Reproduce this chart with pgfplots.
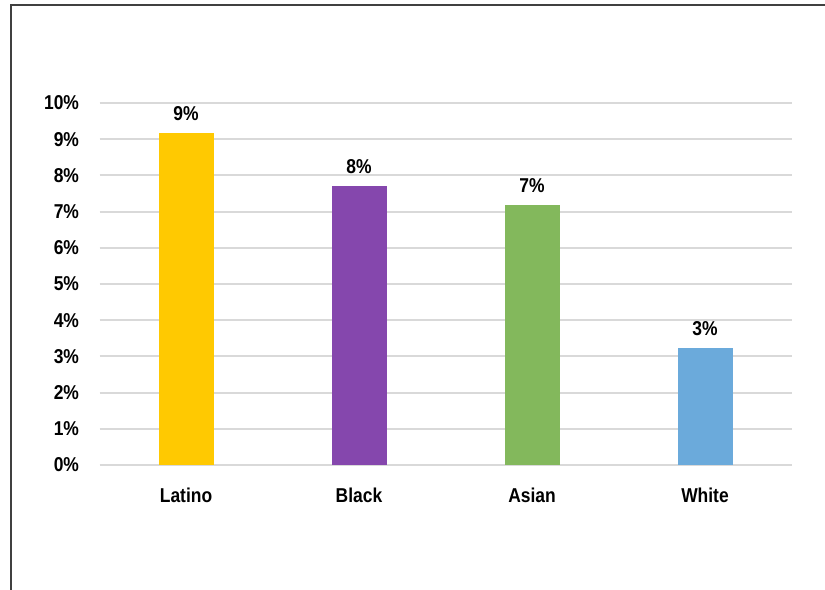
\documentclass[border=0pt]{standalone}
\usepackage{graphicx}
\usepackage{pgfplots}
\pgfplotsset{compat=1.18}
\usepackage{fontspec}
\setmainfont{Liberation Sans}
\definecolor{cLat}{HTML}{FFC901}
\definecolor{cBlk}{HTML}{8547AD}
\definecolor{cAsi}{HTML}{83B85C}
\definecolor{cWht}{HTML}{6BAADB}
\definecolor{gridc}{HTML}{D9D9D9}
\definecolor{framec}{HTML}{404040}
\newcommand{\tall}[1]{\scalebox{1}[1.15]{#1}}
\begin{document}
\begin{tikzpicture}[x=1bp,y=1bp]
\useasboundingbox (0,0) rectangle (825,-590);
\draw[framec, line width=1.5bp] (11,-590) -- (11,-5) -- (825,-5);
\begin{axis}[
  at={(99.5bp,-465bp)}, anchor=south west,
  scale only axis, width=692bp, height=362bp,
  xmin=-0.5, xmax=3.5, ymin=0, ymax=10,
  axis line style={draw=none},
  ytick={0,1,...,10},
  yticklabel={\tall{\pgfmathprintnumber{\tick}\%}},
  xtick={0,1,2,3},
  xticklabels={\tall{Latino},\tall{Black},\tall{Asian},\tall{White}},
  major tick length=0pt,
  ymajorgrids, grid style={gridc, line width=2bp},
  tick label style={font=\fontsize{17.5}{20}\selectfont\bfseries},
  /pgf/number format/assume math mode=true,
  yticklabel style={anchor=east, xshift=-17bp},
  xticklabel style={anchor=north, yshift=-19bp},
  ybar, bar width=55bp, bar shift=0pt,
  clip=false,
  point meta=explicit symbolic,
  nodes near coords={\tall{\pgfplotspointmeta}},
  nodes near coords style={font=\fontsize{17.5}{20}\selectfont\bfseries, anchor=south, inner sep=0pt, yshift=12bp},
]
\addplot[fill=cLat, draw=none] coordinates {(0,9.17) [9\%]};
\addplot[fill=cBlk, draw=none] coordinates {(1,7.71) [8\%]};
\addplot[fill=cAsi, draw=none] coordinates {(2,7.18) [7\%]};
\addplot[fill=cWht, draw=none] coordinates {(3,3.23) [3\%]};
\end{axis}
\end{tikzpicture}
\end{document}
